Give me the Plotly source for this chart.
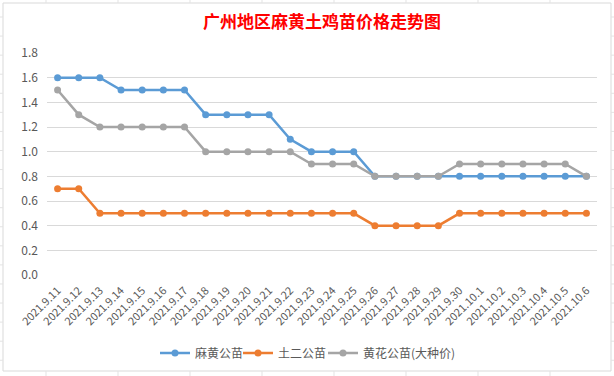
import plotly.graph_objects as go

dates = ["2021.9.11", "2021.9.12", "2021.9.13", "2021.9.14", "2021.9.15", "2021.9.16",
         "2021.9.17", "2021.9.18", "2021.9.19", "2021.9.20", "2021.9.21", "2021.9.22",
         "2021.9.23", "2021.9.24", "2021.9.25", "2021.9.26", "2021.9.27", "2021.9.28",
         "2021.9.29", "2021.9.30", "2021.10.1", "2021.10.2", "2021.10.3", "2021.10.4",
         "2021.10.5", "2021.10.6"]

mahuang = [1.6, 1.6, 1.6, 1.5, 1.5, 1.5, 1.5, 1.3, 1.3, 1.3, 1.3, 1.1, 1.0, 1.0, 1.0,
           0.8, 0.8, 0.8, 0.8, 0.8, 0.8, 0.8, 0.8, 0.8, 0.8, 0.8]
tuer = [0.7, 0.7, 0.5, 0.5, 0.5, 0.5, 0.5, 0.5, 0.5, 0.5, 0.5, 0.5, 0.5, 0.5, 0.5,
        0.4, 0.4, 0.4, 0.4, 0.5, 0.5, 0.5, 0.5, 0.5, 0.5, 0.5]
huanghua = [1.5, 1.3, 1.2, 1.2, 1.2, 1.2, 1.2, 1.0, 1.0, 1.0, 1.0, 1.0, 0.9, 0.9, 0.9,
            0.8, 0.8, 0.8, 0.8, 0.9, 0.9, 0.9, 0.9, 0.9, 0.9, 0.8]

series_names = ["麻黄公苗", "土二公苗", "黄花公苗(大种价)"]
series_colors = ["#5B9BD5", "#ED7D31", "#A5A5A5"]
yticks = [0.0, 0.2, 0.4, 0.6, 0.8, 1.0, 1.2, 1.4, 1.6, 1.8]

x_idx = list(range(len(dates)))

font_family = "Noto Sans CJK SC, Noto Sans, sans-serif"

W, H = 614, 376
L, R, T, B = 47, 17, 53, 101
pw, ph = W - L - R, H - T - B

def px_x(x):
    return (x - L) / pw

def px_y(y):
    return (H - B - y) / ph

legend_ids = ["legend", "legend2", "legend3"]
legend_left_px = [155, 238, 323]

fig = go.Figure()
for name, vals, col, lid in zip(series_names, [mahuang, tuer, huanghua], series_colors, legend_ids):
    fig.add_trace(go.Scatter(
        x=x_idx, y=vals, name=name, mode="lines+markers",
        line=dict(color=col, width=2.5),
        marker=dict(color=col, size=7, symbol="circle"),
        legend=lid,
    ))

# chart frame
shapes = [dict(type="rect", xref="paper", yref="paper",
               x0=px_x(3), x1=px_x(611), y0=px_y(371), y1=px_y(3),
               line=dict(color="#D9D9D9", width=1), fillcolor="rgba(0,0,0,0)", layer="below")]

# spreadsheet cell gridlines peeking around the chart frame (decoration)
sheet_line = dict(color="#E3E3E3", width=1)
for k in range(8):
    cx = 46 + 72 * k
    shapes.append(dict(type="line", xref="paper", yref="paper",
                       x0=px_x(cx), x1=px_x(cx), y0=px_y(0), y1=px_y(3), line=sheet_line))
    shapes.append(dict(type="line", xref="paper", yref="paper",
                       x0=px_x(cx), x1=px_x(cx), y0=px_y(371), y1=px_y(376), line=sheet_line))
for k in range(19):
    ry = 17 + 19.07 * k
    shapes.append(dict(type="line", xref="paper", yref="paper",
                       x0=px_x(0), x1=px_x(3), y0=px_y(ry), y1=px_y(ry), line=sheet_line))
    shapes.append(dict(type="line", xref="paper", yref="paper",
                       x0=px_x(611), x1=px_x(614), y0=px_y(ry), y1=px_y(ry), line=sheet_line))

legend_common = dict(orientation="h", xanchor="left", y=px_y(353), yanchor="middle",
                     font=dict(family=font_family, size=12, color="#595959"),
                     itemwidth=30, bgcolor="rgba(0,0,0,0)")

fig.update_layout(
    width=W, height=H,
    margin=dict(l=L, r=R, t=T, b=B, autoexpand=False),
    paper_bgcolor="white", plot_bgcolor="white",
    title=dict(text="<b>广州地区麻黄土鸡苗价格走势图</b>", x=0.5, xanchor="center",
               xref="paper", y=1 - 22 / H, yanchor="middle",
               font=dict(family=font_family, size=17, color="#FF0000")),
    xaxis=dict(range=[-0.5, len(dates) - 0.5], tickmode="array", tickvals=x_idx,
               ticktext=dates, tickangle=-45, showgrid=False, zeroline=False,
               showline=False, ticks="", automargin=False, ticklabelstandoff=6,
               tickfont=dict(family=font_family, size=11, color="#595959")),
    yaxis=dict(range=[0, 1.8], tickmode="array", tickvals=yticks,
               ticktext=[f"{v:.1f}" for v in yticks],
               showgrid=True, gridcolor="#D9D9D9", gridwidth=1, zeroline=False,
               showline=False, ticks="", ticklabelstandoff=8, automargin=False,
               tickfont=dict(family=font_family, size=12, color="#595959")),
    legend=dict(x=px_x(legend_left_px[0]), **legend_common),
    legend2=dict(x=px_x(legend_left_px[1]), **legend_common),
    legend3=dict(x=px_x(legend_left_px[2]), **legend_common),
    shapes=shapes,
    showlegend=True,
)

fig.write_html("out.html",
               config={"displayModeBar": False},
               post_script="document.body.style.margin='0px';document.body.style.overflow='hidden';")
